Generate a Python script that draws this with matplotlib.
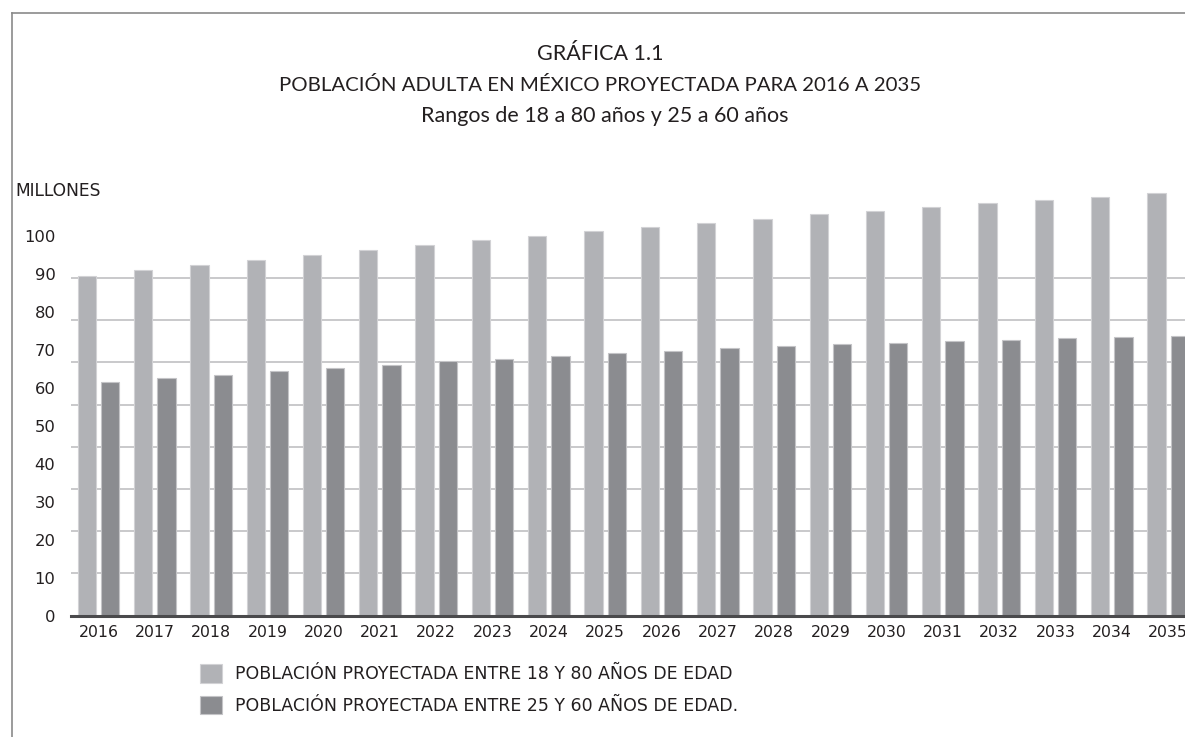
import matplotlib
matplotlib.use("Agg")
import matplotlib.pyplot as plt
from matplotlib.lines import Line2D
import numpy as np

# datos (millones de personas)
anios = [str(a) for a in range(2016, 2036)]
pob_18_80 = [89.5, 91.0, 92.3, 93.6, 94.9, 96.2, 97.5, 98.8, 100.0, 101.2,
             102.3, 103.4, 104.5, 105.6, 106.6, 107.6, 108.5, 109.4, 110.3, 111.2]
pob_25_60 = [61.5, 62.5, 63.4, 64.3, 65.2, 66.1, 66.9, 67.6, 68.4, 69.1,
             69.7, 70.4, 70.9, 71.4, 71.8, 72.2, 72.6, 73.0, 73.4, 73.6]
etiquetas_y = [str(v) for v in range(0, 101, 10)]
serie_labels = ["POBLACIÓN PROYECTADA ENTRE 18 Y 80 AÑOS DE EDAD",
                "POBLACIÓN PROYECTADA ENTRE 25 Y 60 AÑOS DE EDAD."]

plt.rcParams['font.family'] = ['DejaVu Sans']
fuente_titulo = ['Lato', 'DejaVu Sans']
texto = '#231f20'
claro = '#b1b2b6'
oscuro = '#8b8c90'

W, H = 1185, 737
fig = plt.figure(figsize=(W / 100, H / 100), dpi=100)
ax = fig.add_axes([70.7 / W, (H - 615.7) / H, 1 - 70.7 / W, 425.6 / H])

x = np.arange(len(anios))
ancho = 0.325
ax.bar(x - 0.207, pob_18_80, ancho, color=claro, edgecolor='#d2d2d5',
       linewidth=0.8, label=serie_labels[0], zorder=3)
ax.bar(x + 0.207, pob_25_60, ancho, color=oscuro, edgecolor='#c4c4c7',
       linewidth=0.8, label=serie_labels[1], zorder=3)

ax.set_xlim(-0.494, 19.30)
ax.set_ylim(0, 112)

ax.set_xticks(x)
ax.set_xticklabels(anios, fontsize=11.3, color=texto)
ax.set_yticks(np.arange(0, 101, 10))
ax.set_yticklabels(etiquetas_y, fontsize=11.8, color=texto)
ax.tick_params(axis='both', length=0)
ax.tick_params(axis='x', pad=7)
ax.tick_params(axis='y', pad=11)

# lineas de la cuadricula (no coinciden con las etiquetas en el original)
ax.set_yticks(np.linspace(0, 100, 10)[1:], minor=True)
ax.tick_params(axis='y', which='minor', length=0)
ax.grid(which='minor', axis='y', color='#c9c9cb', linewidth=1.4, zorder=0)
ax.grid(which='major', visible=False)
ax.set_axisbelow(True)

for s in ['top', 'right', 'left']:
    ax.spines[s].set_visible(False)
ax.spines['bottom'].set_color('#4a4a4c')
ax.spines['bottom'].set_linewidth(2.2)
ax.spines['bottom'].set_zorder(4)

# titulos
fig.text(600 / W, 1 - 54 / H, "GRÁFICA 1.1", ha='center', va='center',
         fontsize=15.5, color=texto, family=fuente_titulo)
fig.text(600 / W, 1 - 85 / H, "POBLACIÓN ADULTA EN MÉXICO PROYECTADA PARA 2016 A 2035",
         ha='center', va='center', fontsize=14.7, color=texto, family=fuente_titulo)
fig.text(605 / W, 1 - 116 / H, "Rangos de 18 a 80 años y 25 a 60 años",
         ha='center', va='center', fontsize=15.5, color=texto, family=fuente_titulo)
fig.text(15 / W, 1 - 191 / H, "MILLONES", ha='left', va='center',
         fontsize=12.3, color=texto)

# leyenda
fig.legend(loc='upper left', bbox_to_anchor=(200 / W, 1 - 664 / H),
           frameon=False, fontsize=12.5, handlelength=1.27, handleheight=1.27,
           handletextpad=0.72, labelspacing=0.72, borderpad=0, borderaxespad=0,
           labelcolor=texto)

# marco
fig.add_artist(Line2D([11.7 / W, 11.7 / W], [0, 1 - 13.3 / H],
                      transform=fig.transFigure, color='#8a8a8a', lw=1.2))
fig.add_artist(Line2D([11.7 / W, 1], [1 - 13.3 / H, 1 - 13.3 / H],
                      transform=fig.transFigure, color='#8a8a8a', lw=1.2))

fig.savefig('out.png', dpi=100)
